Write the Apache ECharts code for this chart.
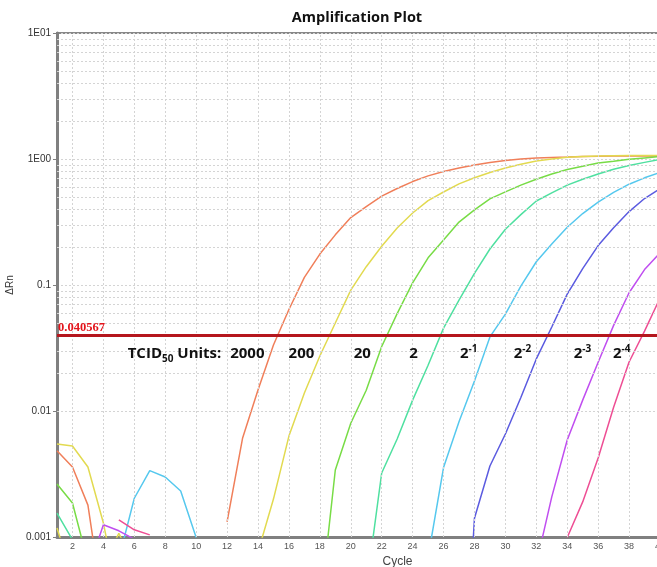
<!DOCTYPE html>
<html><head><meta charset="utf-8">
<script src="https://cdn.jsdelivr.net/npm/echarts@6/dist/echarts.min.js"></script>
<style>html,body{margin:0;padding:0;background:#fff}#c{width:657px;height:567px}</style>
</head><body><div id="c"></div>
<script>
const N = null;
const cycles = [1,2,3,4,5,6,7,8,9,10,11,12,13,14,15,16,17,18,19,20,21,22,23,24,25,26,27,28,29,30,31,32,33,34,35,36,37,38,39,40];

const s2000 = [0.00484,0.00359,0.00179,0.00027,N,N,N,N,N,N,N,0.00132,0.00607,0.0147,0.0334,0.0639,0.115,0.176,0.250,0.343,0.418,0.508,0.583,0.662,0.735,0.795,0.848,0.896,0.938,0.975,1.0,1.018,1.028,1.037,1.047,1.05,1.055,1.056,1.056,1.056];
const s200 = [0.00547,0.00527,0.00359,0.00129,0.000316,N,N,N,N,N,N,N,N,0.00076,0.002,0.00632,0.0139,0.0273,0.0499,0.091,0.1397,0.2031,0.2838,0.3728,0.4677,0.547,0.635,0.709,0.782,0.848,0.910,0.965,1.001,1.033,1.047,1.056,1.06,1.065,1.065,1.065];
const s20 = [0.00263,0.00186,0.00063,N,N,N,N,N,N,N,N,N,N,N,N,N,N,0.00026,0.0034,0.008,0.0146,0.0325,0.0593,0.1039,0.1642,0.2274,0.316,0.395,0.482,0.548,0.62,0.691,0.76,0.826,0.877,0.93,0.96,0.996,1.02,1.045];
const s2 = [0.00155,0.00095,N,N,N,N,N,N,N,N,N,N,N,N,N,N,N,N,N,N,0.00039,0.00322,0.006,0.0122,0.0231,0.0455,0.0758,0.1237,0.193,0.277,0.362,0.464,0.539,0.62,0.69,0.76,0.83,0.888,0.94,0.99];
const s2m1 = [N,N,N,N,0.00067,0.00203,0.00336,0.00299,0.00232,0.00099,N,N,N,N,N,N,N,N,N,N,N,N,N,N,0.00069,0.00356,0.0082,0.0173,0.0387,0.0588,0.098,0.153,0.2117,0.287,0.369,0.455,0.543,0.631,0.709,0.781];
const s2m2 = [N,N,N,N,N,N,N,N,N,N,N,N,N,N,N,N,N,N,N,N,N,N,N,N,N,N,0.00001,0.00141,0.00366,0.00657,0.0128,0.0259,0.0464,0.0847,0.1348,0.2055,0.2844,0.3827,0.4856,0.58];
const s2m3 = [N,N,0.00054,0.00125,0.00112,0.00096,N,N,N,N,N,N,N,N,N,N,N,N,N,N,N,N,N,N,N,N,N,N,N,N,N,0.00061,0.00208,0.00588,0.0122,0.0244,0.0478,0.0868,0.1325,0.1797];
const s2m4 = [N,N,N,N,0.00137,0.00114,0.00104,N,N,N,N,N,N,N,N,N,N,N,N,N,N,N,N,N,N,N,N,N,N,N,N,N,N,0.00099,0.0019,0.00424,0.0107,0.0245,0.043,0.0786];
const sNTC = [0.00118,0.00048,N,0.0006,0.00107,0.0006,N,N,N,N,N,N,N,N,N,N,N,N,N,N,N,N,N,N,N,N,N,N,N,N,N,N,N,N,N,N,N,N,N,N];

const seriesNames = ['2000','200','20','2','2^-1','2^-2','2^-3','2^-4','NTC'];
const seriesValues = [s2000,s200,s20,s2,s2m1,s2m2,s2m3,s2m4,sNTC];
const seriesColors = ['#f07f5a','#e2da50','#78dc46','#4fe0a0','#55c8ee','#5b5be0','#c04ef0','#ee4e94','#e2da50'];

const threshold = 0.040567;
const yTickLabels = ['0.001','0.01','0.1','1E00','1E01'];
const xTickLabels = ['2','4','6','8','10','12','14','16','18','20','22','24','26','28','30','32','34','36','38','40'];

// annotation texts (rich-text markup) and where they sit (cycle, ΔRn)
const annoTexts = ['{b|TCID}{sub|50}{b| Units:}','{b|2000}','{b|200}','{b|20}','{b|2}','{b|2}{sup|-1}','{b|2}{sup|-2}','{b|2}{sup|-3}','{b|2}{sup|-4}'];
const annoCycles = [8.6,13.31,16.81,20.75,24.06,27.63,31.11,34.99,37.52];
const annoLevel = 0.0283;

const chart = echarts.init(document.getElementById('c'));

const gridLineStyle = {color:'#d4d4d4', width:1, type:[2,2]};
const hLines = [];
[0.001,0.01,0.1,1].forEach(d => { for (let k = 2; k <= 9; k++) hLines.push({yAxis: +(k*d).toPrecision(3)}); });
const vLines = xTickLabels.map(t => ({xAxis: +t}));

const fontB = 'Open Sans';
const series = seriesNames.map((name, i) => ({
  name, type:'line', showSymbol:false, symbol:'none', silent:true,
  data: cycles.map((c, j) => [c, seriesValues[i][j]]),
  lineStyle:{color:seriesColors[i], width:1.5}, itemStyle:{color:seriesColors[i]},
  z: 3, animation:false
}));

series.unshift({
  name:'grid', type:'line', data:[], silent:true, z:1, animation:false,
  markLine:{silent:true, symbol:'none', label:{show:false}, lineStyle:gridLineStyle, animation:false,
    data: hLines.concat(vLines)}
});

series.push({
  name:'threshold', type:'line', data:[], silent:true, z:6, animation:false,
  markLine:{silent:true, symbol:'none', animation:false,
    lineStyle:{color:'#b5161d', width:3, type:'solid'},
    label:{show:true, position:'insideStartTop', formatter:'0.040567', distance:[1,1],
      color:'#e3141b', fontFamily:'Liberation Serif', fontWeight:'bold', fontSize:12.5},
    data:[{yAxis: threshold}]},
  markPoint:{silent:true, symbol:'rect', symbolSize:0, animation:false,
    label:{show:true, position:'inside', color:'#111',
      rich:{
        b:{fontFamily:fontB, fontWeight:'bold', fontSize:15, color:'#111', lineHeight:20},
        sub:{fontFamily:fontB, fontWeight:'bold', fontSize:10, color:'#111', lineHeight:11, verticalAlign:'bottom'},
        sup:{fontFamily:fontB, fontWeight:'bold', fontSize:10, color:'#111', lineHeight:11, verticalAlign:'top'}
      }},
    data: annoTexts.map((t, i) => ({coord:[annoCycles[i], annoLevel], value:i, label:{formatter:t}}))}
});

chart.setOption({
  animation:false,
  backgroundColor:'#fff',
  grid:{left:57, right:-3, top:33, bottom:30, show:true, borderColor:'#888', borderWidth:2, outerBoundsMode:'none', containLabel:false},
  graphic:[{type:'text', x:357, y:18, style:{text:'Amplification Plot', fontFamily:fontB, fontWeight:'bold', fontSize:14.5, fill:'#111', align:'center', verticalAlign:'middle'}}],
  xAxis:{type:'value', min:1, max:40, interval:1,
    name:'Cycle', nameLocation:'middle', nameGap:17,
    nameTextStyle:{fontFamily:'Liberation Sans', fontSize:12, color:'#444', padding:[0,0,0,78]},
    axisLine:{lineStyle:{color:'#808080', width:3}},
    axisTick:{show:false},
    splitLine:{show:false},
    axisLabel:{fontFamily:'Liberation Sans', fontSize:9, color:'#555', margin:5,
      formatter: v => xTickLabels.indexOf(String(v)) >= 0 ? String(v) : ''}
  },
  yAxis:{type:'log', logBase:10, min:0.001, max:10,
    name:'ΔRn', nameLocation:'middle', nameGap:34, nameRotate:90,
    nameTextStyle:{fontFamily:'Liberation Sans', fontSize:10, color:'#333'},
    axisLine:{show:true, lineStyle:{color:'#808080', width:3}},
    axisTick:{show:true, length:4, lineStyle:{color:'#808080'}},
    splitLine:{show:true, lineStyle:gridLineStyle},
    minorTick:{show:false},
    axisLabel:{fontFamily:'Liberation Sans', fontSize:10, color:'#333', margin:6,
      formatter: v => yTickLabels[Math.round(Math.log10(v)) + 3]}
  },
  series
});
</script></body></html>
